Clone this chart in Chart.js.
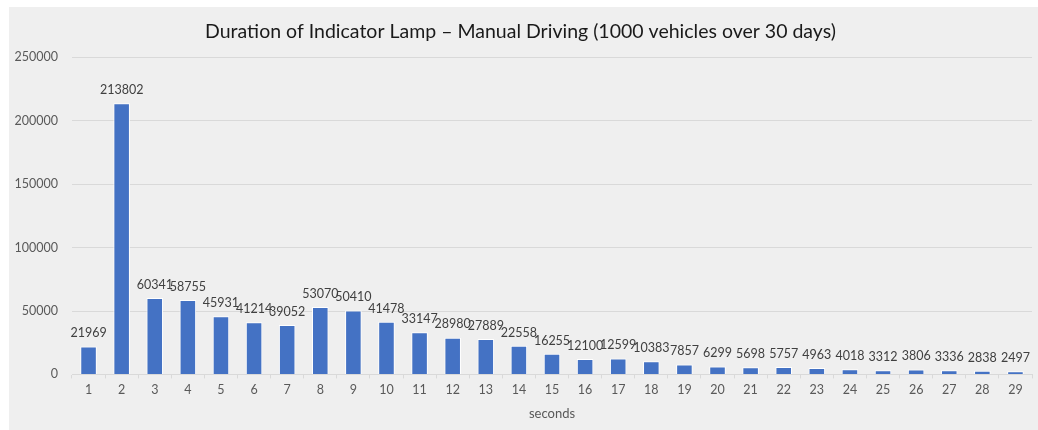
<!DOCTYPE html>
<html>
<head>
<meta charset="utf-8">
<script src="https://cdn.jsdelivr.net/npm/chart.js@4"></script>
<style>
html,body{margin:0;padding:0;background:#fff;}
#wrap{position:absolute;left:9px;top:7px;width:1029px;height:423px;background:#efefef;}
canvas{display:block;}
</style>
</head>
<body>
<div id="wrap"><canvas id="c" width="1029" height="423"></canvas></div>
<script>
const categories = ["1","2","3","4","5","6","7","8","9","10","11","12","13","14","15","16","17","18","19","20","21","22","23","24","25","26","27","28","29"];
const durations = [21969,213802,60341,58755,45931,41214,39052,53070,50410,41478,33147,28980,27889,22558,16255,12100,12599,10383,7857,6299,5698,5757,4963,4018,3312,3806,3336,2838,2497];
const titleText = "Duration of Indicator Lamp \u2013 Manual Driving (1000 vehicles over 30 days)";
const xTitle = "seconds";

const FONT = "Lato, 'Open Sans', sans-serif";

const valueLabels = {
  id: 'valueLabels',
  afterDatasetsDraw(chart) {
    const ctx = chart.ctx;
    const meta = chart.getDatasetMeta(0);
    ctx.save();
    ctx.font = "12.5px " + FONT;
    ctx.fillStyle = "#404040";
    ctx.textAlign = "center";
    ctx.textBaseline = "bottom";
    meta.data.forEach((bar, i) => {
      ctx.fillText(String(durations[i]), bar.x, bar.y - 7);
    });
    ctx.restore();
  }
};

new Chart(document.getElementById('c'), {
  type: 'bar',
  data: {
    labels: categories,
    datasets: [{
      data: durations,
      backgroundColor: '#4472c4',
      borderColor: '#ffffff',
      borderWidth: 1,
      categoryPercentage: 1.0,
      barPercentage: 0.5
    }]
  },
  options: {
    responsive: false,
    animation: false,
    devicePixelRatio: 1,
    layout: { padding: { left: 0, right: 6, top: 0, bottom: 0 } },
    plugins: {
      legend: { display: false },
      tooltip: { enabled: false },
      title: {
        display: true,
        text: titleText,
        color: '#1a1a1a',
        font: { family: FONT, size: 19.5, weight: 'normal' },
        padding: { top: 13, bottom: 14 }
      }
    },
    scales: {
      x: {
        grid: { drawOnChartArea: false, drawTicks: true, tickLength: 4, color: '#d9d9d9' },
        border: { display: true, color: '#d9d9d9' },
        ticks: { color: '#595959', font: { family: FONT, size: 12.5 }, padding: 4, maxRotation: 0, autoSkip: false },
        title: { display: true, text: xTitle, color: '#595959', font: { family: FONT, size: 13 }, padding: { top: 5, bottom: 8 } }
      },
      y: {
        min: 0, max: 250000,
        ticks: { stepSize: 50000, color: '#595959', font: { family: FONT, size: 12.5 }, padding: 14,
                 callback: (v) => String(v) },
        grid: { color: '#d9d9d9', drawTicks: false },
        border: { display: false },
        afterFit(scale) { scale.width = 63; }
      }
    }
  },
  plugins: [valueLabels]
});
</script>
</body>
</html>
